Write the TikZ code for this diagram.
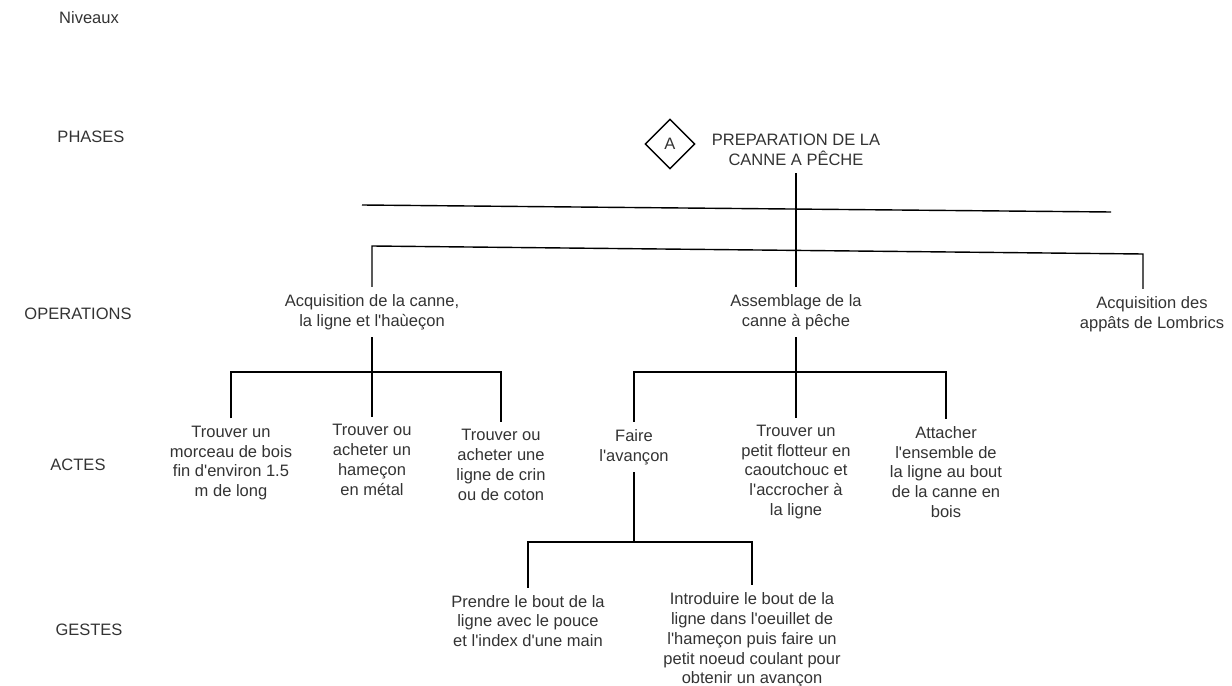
\documentclass[tikz,border=0pt]{standalone}
\usepackage{fontspec}
\setmainfont{Liberation Sans}[Ligatures=TeXOff]
\usetikzlibrary{shapes.geometric}
\definecolor{txtgray}{HTML}{333333}

\begin{document}
\begin{tikzpicture}[x=0.02cm, y=-0.02cm,
    every node/.style={font=\fontsize{9.4}{11.3}\selectfont, text=txtgray},
    box/.style={align=center, inner sep=4pt},
    lvl/.style={inner sep=0pt},
    losange/.style={diamond, draw, thick, minimum width=1cm, minimum height=1cm, inner sep=0pt}]
  \useasboundingbox (0,0) rectangle (1232,686);

  % Niveaux
  \node[lvl] (niv) at (89,18) {Niveaux};
  \node[lvl] (lphase) at (91,137) {PHASES};
  \node[lvl] (lop) at (78,314) {OPERATIONS};
  \node[lvl] (lacte) at (78,465) {ACTES};
  \node[lvl] (lgeste) at (89,630) {GESTES};

  % phase
  \node[losange] (dA) at (670,144) {A};
  \node[box] (ph) at (796,150) {PREPARATION DE LA\\CANNE A PÊCHE};

  % operations
  \node[box] (op1) at (372,312) {Acquisition de la canne,\\la ligne et l'haùeçon};
  \node[box] (op2) at (796,312) {Assemblage de la\\canne à pêche};
  \node[box] (op3) at (1152,314) {Acquisition des\\appâts de Lombrics};

  % actes
  \node[box] (a1) at (231,463) {Trouver un\\morceau de bois\\fin d'environ 1.5\\m de long};
  \node[box] (a2) at (372,460) {Trouver ou\\acheter un\\hameçon\\en métal};
  \node[box] (a3) at (501,465) {Trouver ou\\acheter une\\ligne de crin\\ou de coton};
  \node[box] (a4) at (634,447) {Faire\\l'avançon};
  \node[box] (a5) at (796,472) {Trouver un\\petit flotteur en\\caoutchouc et\\l'accrocher à\\la ligne};
  \node[box] (a6) at (946,472) {Attacher\\l'ensemble de\\la ligne au bout\\de la canne en\\bois};

  % gestes
  \node[box] (g1) at (528,621) {Prendre le bout de la\\ligne avec le pouce\\et l'index d'une main};
  \node[box] (g2) at (752,640) {Introduire le bout de la\\ligne dans l'oeuillet de\\l'hameçon puis faire un\\petit noeud coulant pour\\obtenir un avançon};

  \coordinate (l1w) at (362,205);
  \coordinate (l1e) at (1111,212);
  \coordinate (l2w) at (372,246);
  \coordinate (l2e) at (1143,254);
  \coordinate (b1) at (372,372);
  \coordinate (b2) at (796,372);
  \coordinate (b3) at (634,542);

  \begin{scope}[thick]
    \draw (ph) -- (op2);
    \draw (l1w) -- (l1e);
    \draw (op1) -- (l2w) -- (l2e) -- (l2e |- op3.north);

    \draw (op1) -- (b1);
    \draw (a1) |- (b1) -| (a3);
    \draw (b1) -- (a2);

    \draw (op2) -- (b2);
    \draw (a4) |- (b2) -| (a6);
    \draw (b2) -- (a5);

    \draw (a4) -- (b3);
    \draw (g1) |- (b3) -| (g2);
  \end{scope}
\end{tikzpicture}
\end{document}
